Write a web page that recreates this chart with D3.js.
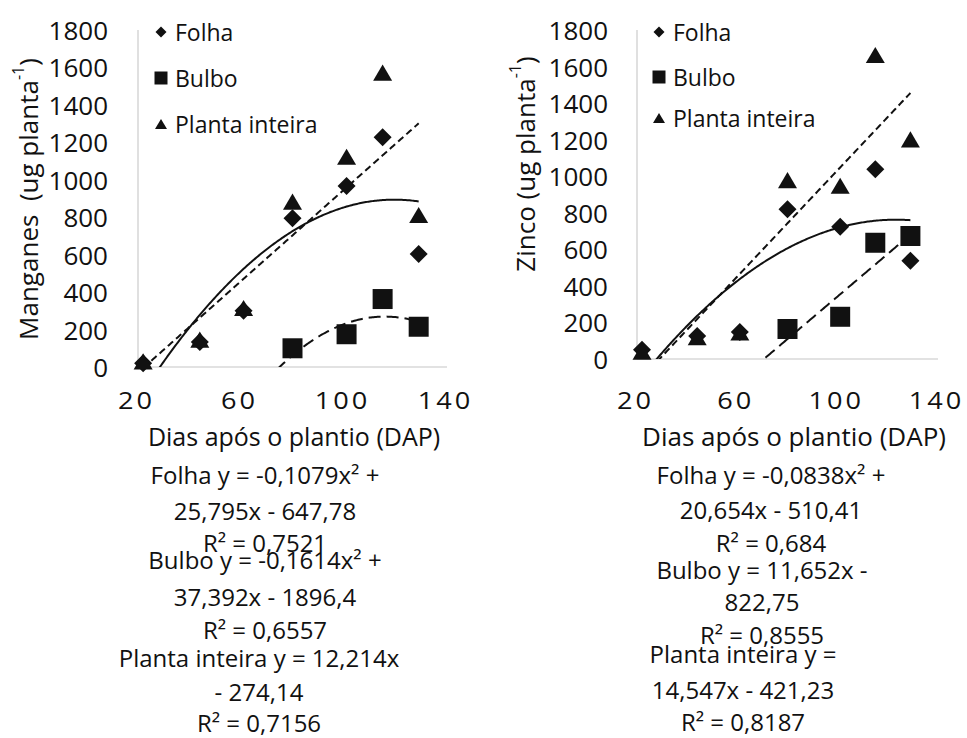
<!DOCTYPE html>
<html>
<head>
<meta charset="utf-8">
<script src="https://cdn.jsdelivr.net/npm/d3@7/dist/d3.min.js"></script>
<style>
  html, body { margin: 0; padding: 0; background: #fff; }
  svg { display: block; font-family: "Open Sans", sans-serif; }
  .pre { white-space: pre; }
</style>
</head>
<body>
<svg id="chart" width="967" height="738"></svg>
<script>
// Sampling days (DAP)
const days = [22, 44, 61, 80, 101, 115, 129];

// Manganês accumulation (ug planta-1)
const mnFolha  = [20, 133, 300, 795, 967, 1227, 604];
const mnBulbo  = [null, null, null, 100, 175, 363, 215];
const mnPlanta = [30, 146, 315, 883, 1123, 1572, 812];

// Zinco accumulation (ug planta-1)
const znFolha  = [50, 126, 148, 819, 724, 1038, 538];
const znBulbo  = [null, null, null, 164, 231, 636, 673];
const znPlanta = [40, 120, 145, 979, 948, 1663, 1202];

// Trendline coefficients [c0, c1, c2] : y = c0 + c1*x + c2*x^2
const mnFolhaFit  = [-647.78, 25.795, -0.1079];
const mnBulboFit  = [-1896.4, 37.392, -0.1614];
const mnPlantaFit = [-274.14, 12.214, 0];
const znFolhaFit  = [-510.41, 20.654, -0.0838];
const znBulboFit  = [-822.75, 11.652, 0];
const znPlantaFit = [-421.23, 14.547, 0];

// Axis ticks
const xTicks = [20, 60, 100, 140];
const yTicks = [0, 200, 400, 600, 800, 1000, 1200, 1400, 1600, 1800];
const seriesNames = ["Folha", "Bulbo", "Planta inteira"];

// Equation labels, one text line per entry
const mnEqFolha  = ["Folha y = -0,1079x² +", "25,795x - 647,78", "R² = 0,7521"];
const mnEqBulbo  = ["Bulbo y = -0,1614x² +", "37,392x - 1896,4", "R² = 0,6557"];
const mnEqPlanta = ["Planta inteira y = 12,214x", "- 274,14", "R² = 0,7156"];
const znEqFolha  = ["Folha y = -0,0838x² +", "20,654x - 510,41", "R² = 0,684"];
const znEqBulbo  = ["Bulbo y = 11,652x -", "822,75", "R² = 0,8555"];
const znEqPlanta = ["Planta inteira y =", "14,547x - 421,23", "R² = 0,8187"];

const svg = d3.select("#chart");
const INK = "#111";
const AXIS = "#d9d9d9";

// Marker paths centred on their bounding box
function markerPath(type, s) {
  const h = s / 2;
  if (type === "diamond") return `M0,${-h}L${h},0L0,${h}L${-h},0Z`;
  if (type === "square") return `M${-h},${-h}H${h}V${h}H${-h}Z`;
  return `M0,${-h * 0.85}L${h},${h * 0.85}L${-h},${h * 0.85}Z`;
}

function drawPanel(cfg) {
  const x = d3.scaleLinear().domain([20, 140]).range([cfg.x0, cfg.x1]);
  const y = d3.scaleLinear().domain([0, 1800]).range([cfg.y0, cfg.y1]);
  const g = svg.append("g");

  // axes lines
  g.append("line").attr("x1", x(20)).attr("x2", x(20))
    .attr("y1", y(0)).attr("y2", y(1800))
    .attr("stroke", AXIS).attr("stroke-width", 1.6);
  g.append("line").attr("x1", x(20)).attr("x2", x(140))
    .attr("y1", y(0)).attr("y2", y(0))
    .attr("stroke", AXIS).attr("stroke-width", 1.6);

  // y tick labels
  g.selectAll(".yt").data(yTicks).join("text")
    .attr("x", cfg.yLabelX).attr("y", d => y(d))
    .attr("text-anchor", "end").attr("dominant-baseline", "central")
    .attr("font-size", 26).attr("fill", INK).text(d => d);

  // x tick labels (wide, spaced digits)
  g.selectAll(".xt").data(xTicks).join("text")
    .attr("transform", d => `translate(${x(d) - 1.5},400) scale(1.18,1)`)
    .attr("text-anchor", "middle").attr("dominant-baseline", "central")
    .attr("font-size", 23).attr("letter-spacing", 2.5).attr("fill", INK).text(d => d);

  // axis titles
  g.append("text").attr("x", cfg.xTitleX).attr("y", 436)
    .attr("text-anchor", "middle").attr("dominant-baseline", "central")
    .attr("font-size", cfg.xTitleSize).attr("fill", INK).text("Dias após o plantio (DAP)");

  const yt = g.append("text").attr("class", "pre")
    .attr("transform", `translate(${cfg.yTitleX},${cfg.yTitleY}) rotate(-90)`)
    .attr("text-anchor", "middle").attr("dominant-baseline", "central")
    .attr("font-size", 26).attr("fill", INK);
  yt.append("tspan").text(cfg.yTitle);
  yt.append("tspan").attr("font-size", 16).attr("dy", -10).text("-1");
  yt.append("tspan").attr("dy", 10).text(")");

  // trendlines, clipped to the plot area
  const clipId = "clip" + cfg.id;
  svg.append("clipPath").attr("id", clipId).append("rect")
    .attr("x", x(20)).attr("y", y(1800)).attr("width", x(140) - x(20)).attr("height", y(0) - y(1800));
  const fitLine = d3.line().x(d => x(d[0])).y(d => y(d[1]));
  const xs = d3.range(days[0], days[days.length - 1] + 0.001, 0.5);
  cfg.fits.forEach(f => {
    const pts = xs.map(t => [t, f.c[0] + f.c[1] * t + f.c[2] * t * t]);
    g.append("path").attr("d", fitLine(pts)).attr("clip-path", `url(#${clipId})`)
      .attr("fill", "none").attr("stroke", INK).attr("stroke-width", 2)
      .attr("stroke-dasharray", f.dash);
  });

  // data markers
  cfg.series.forEach(s => {
    const pts = days.map((d, i) => [d, s.v[i]]).filter(p => p[1] != null);
    g.selectAll(null).data(pts).join("path")
      .attr("transform", p => `translate(${x(p[0])},${y(p[1])})`)
      .attr("d", markerPath(s.type, s.size)).attr("fill", INK);
  });

  // legend
  const types = ["diamond", "square", "triangle"];
  const lsize = [11, 13, 12];
  seriesNames.forEach((n, i) => {
    g.append("path").attr("transform", `translate(${cfg.legX},${cfg.legY[i]})`)
      .attr("d", markerPath(types[i], lsize[i])).attr("fill", INK);
    g.append("text").attr("x", cfg.legX + 14).attr("y", cfg.legY[i])
      .attr("dominant-baseline", "central").attr("font-size", 23).attr("fill", INK).text(n);
  });

  // equation labels (baselines given per line)
  cfg.eqs.forEach(e => {
    e.lines.forEach((t, i) => {
      g.append("text").attr("x", e.cx).attr("y", e.base[i])
        .attr("text-anchor", "middle")
        .attr("font-size", 24).attr("fill", INK).text(t);
    });
  });
}

drawPanel({
  id: "mn", x0: 138, x1: 447, y0: 367, y1: 30, yLabelX: 108,
  xTitleX: 294, xTitleSize: 25, yTitleX: 28, yTitleY: 199, yTitle: "Manganes  (ug planta",
  legX: 161, legY: [32, 78, 124],
  fits: [
    { c: mnFolhaFit, dash: null },
    { c: mnBulboFit, dash: "12,6" },
    { c: mnPlantaFit, dash: "7,4" }
  ],
  series: [
    { v: mnFolha, type: "diamond", size: 18 },
    { v: mnBulbo, type: "square", size: 20 },
    { v: mnPlanta, type: "triangle", size: 19 }
  ],
  eqs: [
    { lines: mnEqFolha, cx: 265, base: [484, 520, 552] },
    { lines: mnEqBulbo, cx: 265, base: [569, 606, 639] },
    { lines: mnEqPlanta, cx: 259, base: [667, 701, 732] }
  ]
});

drawPanel({
  id: "zn", x0: 637, x1: 938, y0: 359, y1: 30, yLabelX: 608,
  xTitleX: 794, xTitleSize: 26, yTitleX: 525, yTitleY: 164, yTitle: "Zinco (ug planta",
  legX: 659, legY: [32, 77, 118],
  fits: [
    { c: znFolhaFit, dash: null },
    { c: znBulboFit, dash: "12,6" },
    { c: znPlantaFit, dash: "7,4" }
  ],
  series: [
    { v: znFolha, type: "diamond", size: 18 },
    { v: znBulbo, type: "square", size: 20 },
    { v: znPlanta, type: "triangle", size: 19 }
  ],
  eqs: [
    { lines: znEqFolha, cx: 771, base: [484, 519, 552] },
    { lines: znEqBulbo, cx: 762, base: [579, 611, 644] },
    { lines: znEqPlanta, cx: 743, base: [663, 699, 731] }
  ]
});
</script>
</body>
</html>
